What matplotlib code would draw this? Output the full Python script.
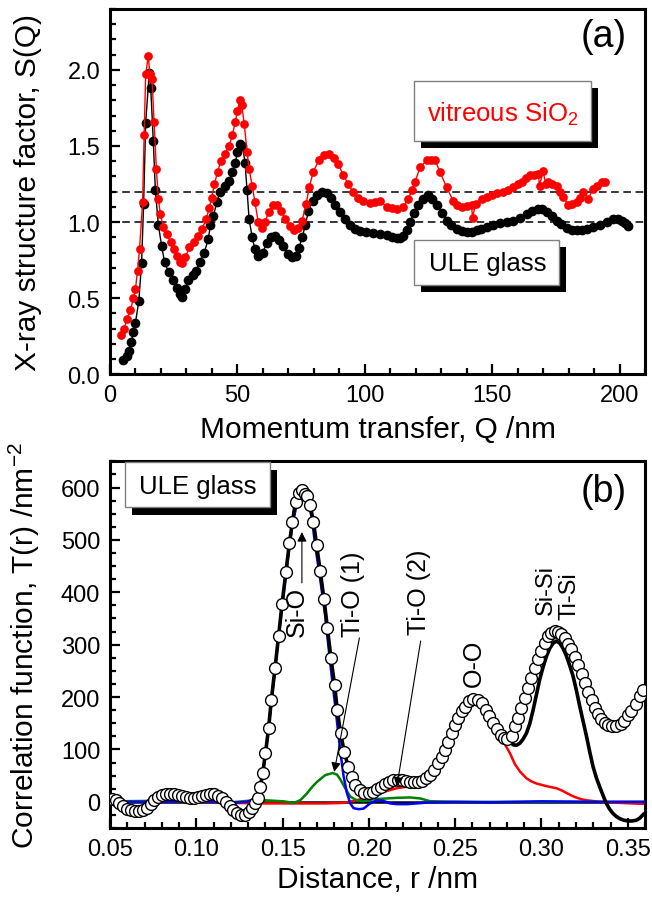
import numpy as np
import matplotlib
matplotlib.use("Agg")
import matplotlib.pyplot as plt
from matplotlib.patches import Rectangle
from matplotlib.ticker import MultipleLocator

plt.rcParams['font.family'] = ['Liberation Sans', 'DejaVu Sans']
plt.rcParams['mathtext.fontset'] = 'custom'
plt.rcParams['mathtext.rm'] = 'Liberation Sans'
plt.rcParams['mathtext.it'] = 'Liberation Sans:italic'

# ---- panel (a): X-ray structure factor S(Q) ----
q_ule = [5.1, 6.7, 7.5, 8.3, 9.2, 10, 11.3, 12.4, 13.2, 14, 15.4, 16, 17, 17.8, 19, 20.3, 21.4,
         23, 24.7, 26.3, 27.5, 28.3, 29.6, 30.7, 32.4, 33.7, 35.3, 37, 38.6, 39.4, 40.6, 41.9,
         43.2, 45.1, 46.8, 48, 49.2, 50, 51, 52, 53, 53.8, 54.6, 55.8, 56.9, 58.2, 59.9, 61.5,
         63.1, 64.8, 66.4, 68, 69.7, 71.3, 72.9, 74.2, 75.4, 76.7, 77.8, 79.5, 81.2, 83.2, 85,
         86.8, 88.5, 90.3, 92.2, 94.2, 96.2, 98.1, 100.5, 103.3, 106, 108.6, 110.5, 112.5, 114,
         115.1, 116.5, 117.7, 119.3, 121, 123, 124.9, 126.5, 128.2, 130.2, 132.1, 134, 136.1,
         138, 140, 142, 143.9, 145.8, 147.8, 150.5, 153.1, 155.7, 158.3, 161, 163.5, 165.8,
         168.1, 169.7, 171.4, 173.3, 175.3, 177.2, 179.2, 181.2, 183.2, 185.2, 187.1, 189.7,
         192.3, 194.9, 197.5, 199.2, 200.8, 202.2, 203.4]
s_ule = [0.096, 0.118, 0.15, 0.21, 0.28, 0.34, 0.48, 0.73, 1.12, 1.65, 1.98, 1.88, 1.53, 1.21,
         0.98, 0.84, 0.74, 0.67, 0.62, 0.57, 0.53, 0.51, 0.56, 0.62, 0.65, 0.68, 0.74, 0.80,
         0.89, 0.98, 1.04, 1.13, 1.20, 1.24, 1.27, 1.33, 1.39, 1.46, 1.51, 1.50, 1.39, 1.21,
         1.02, 0.90, 0.82, 0.78, 0.80, 0.86, 0.90, 0.91, 0.88, 0.84, 0.79, 0.77, 0.78, 0.83,
         0.90, 0.98, 1.07, 1.14, 1.18, 1.20, 1.19, 1.16, 1.11, 1.066, 1.02, 0.982, 0.955, 0.94,
         0.933, 0.93, 0.922, 0.916, 0.905, 0.895, 0.898, 0.91, 0.95, 1.0, 1.06, 1.11, 1.15,
         1.175, 1.15, 1.11, 1.06, 1.01, 0.98, 0.956, 0.94, 0.934, 0.938, 0.945, 0.955, 0.967,
         0.98, 0.995, 1.003, 1.01, 1.03, 1.055, 1.075, 1.087, 1.085, 1.066, 1.04, 1.01, 0.985,
         0.96, 0.95, 0.945, 0.95, 0.956, 0.967, 0.982, 1.0, 1.022, 1.02, 1.01, 0.995, 0.974]

q_sio2 = [4.3, 5.6, 6.7, 8, 9.2, 10, 10.8, 11.6, 12.8, 13.4, 14, 15, 15.7, 16.5, 17.3, 18.2, 19,
          19.8, 20.9, 22.2, 23.9, 25.2, 26.3, 27.5, 28.3, 29.6, 31.2, 32.9, 34.5, 36.1, 37.8,
          38.9, 39.9, 41, 42.2, 43.5, 45.1, 46.8, 48, 49.2, 50, 50.9, 51.7, 52.7, 53.8, 54.6,
          55.8, 56.9, 58.2, 59.5, 60.8, 62.3, 64, 65.6, 67.2, 68.8, 70.5, 72.1, 73.8, 75.4, 77,
          78.2, 79.8, 81.9, 84, 86, 88, 89.5, 91.6, 93.5, 95.5, 97.5, 99.4, 102, 104, 106,
          108.6, 110.5, 112.5, 115.1, 117.1, 118.5, 119.7, 121.7, 124.3, 126, 127.6, 129.5,
          132.1, 134.7, 136.3, 138, 140, 141.9, 142.3, 143.5, 145.9, 147.8, 149.8, 152, 154.4,
          156.4, 158.3, 160, 161.6, 163.2, 164.8, 166.5, 168.1, 168.6, 170, 171, 172, 173.6,
          175.3, 176.6, 177.9, 179.9, 181.5, 183.2, 184.5, 185.8, 187.7, 189.7, 191.3, 193,
          194.3]
s_sio2 = [0.256, 0.30, 0.365, 0.42, 0.50, 0.56, 0.68, 0.825, 1.13, 1.57, 1.97, 2.09, 1.97, 1.94,
          1.66, 1.35, 1.15, 1.05, 0.97, 0.92, 0.87, 0.825, 0.78, 0.74, 0.73, 0.77, 0.835, 0.87,
          0.91, 0.955, 1.02, 1.09, 1.16, 1.25, 1.33, 1.40, 1.45, 1.50, 1.57, 1.66, 1.73, 1.80,
          1.77, 1.645, 1.46, 1.35, 1.24, 1.13, 1.00, 0.96, 1.00, 1.065, 1.11, 1.115, 1.075,
          1.02, 0.975, 0.945, 0.96, 1.01, 1.12, 1.23, 1.33, 1.405, 1.44, 1.45, 1.42, 1.38, 1.31,
          1.25, 1.197, 1.16, 1.14, 1.127, 1.13, 1.14, 1.10, 1.09, 1.087, 1.10, 1.153, 1.21,
          1.263, 1.36, 1.405, 1.41, 1.405, 1.33, 1.23, 1.14, 1.11, 1.10, 1.105, 1.11, 1.03,
          1.12, 1.153, 1.165, 1.175, 1.19, 1.197, 1.21, 1.23, 1.25, 1.263, 1.29, 1.307, 1.31,
          1.318, 1.24, 1.333, 1.25, 1.263, 1.25, 1.24, 1.20, 1.165, 1.11, 1.12, 1.13, 1.16,
          1.197, 1.153, 1.22, 1.24, 1.263, 1.263]

ref_levels = [1.0, 1.2]

# ---- panel (b): correlation function T(r) ----
r_data = [0.051, 0.0532, 0.0555, 0.0575, 0.0598, 0.062, 0.0645, 0.0667, 0.069, 0.0712, 0.0735,
          0.0757, 0.078, 0.0802, 0.0825, 0.0848, 0.087, 0.0893, 0.0918, 0.094, 0.0963, 0.0985,
          0.101, 0.1034, 0.1057, 0.108, 0.1103, 0.1125, 0.1148, 0.117, 0.1193, 0.1215, 0.1238,
          0.126, 0.1283, 0.1305, 0.1322, 0.1340, 0.1356, 0.1371, 0.1385, 0.1401, 0.1419, 0.1435,
          0.1456, 0.1477, 0.1497, 0.1519, 0.1540, 0.1557, 0.1575, 0.1594, 0.1612, 0.1627, 0.1643,
          0.1660, 0.1679, 0.1697, 0.1718, 0.1740, 0.1760, 0.1780, 0.1801, 0.1817, 0.1836, 0.1857,
          0.1880, 0.1900, 0.1922, 0.1946, 0.1972, 0.1998, 0.2022, 0.2046, 0.2070, 0.2094, 0.2118,
          0.2142, 0.2166, 0.2190, 0.2214, 0.2238, 0.2262, 0.2286, 0.2310, 0.2332, 0.2354, 0.2377,
          0.2402, 0.2422, 0.2441, 0.2460, 0.2480, 0.2499, 0.2518, 0.2538, 0.2557, 0.2580, 0.2605,
          0.2630, 0.2655, 0.2678, 0.2697, 0.2720, 0.2740, 0.2763, 0.2782, 0.2803, 0.2827, 0.2846,
          0.2865, 0.2884, 0.2904, 0.2923, 0.2942, 0.2962, 0.2981, 0.3000, 0.3019, 0.3038, 0.3058,
          0.3077, 0.3096, 0.3115, 0.3135, 0.3155, 0.3174, 0.3193, 0.3213, 0.3232, 0.3251, 0.3270,
          0.3290, 0.3309, 0.3328, 0.3347, 0.3367, 0.3388, 0.3410, 0.3434, 0.3458, 0.3480, 0.3500,
          0.3521, 0.3546, 0.3569, 0.3590]
t_data = [5, 3, -3, -8, -13, -16, -17.5, -17, -15, -11, -4, 3, 9, 13, 15, 15.5, 14.5, 12.5, 10.5,
          9, 8, 8, 9, 11.5, 14, 15.5, 14.5, 12, 7, 0, -8, -15, -21, -25, -25, -20, -12, -3, 8,
          29, 55, 93, 141, 195, 255, 317, 378, 438, 495, 534, 573, 590, 595, 588, 583, 566, 534,
          491, 441, 387, 331, 275, 224, 175, 131, 96, 67, 48, 33, 22, 16, 16, 19, 24, 29, 34, 38,
          41, 42, 42, 40, 38, 38, 38, 40, 45, 51, 61, 74, 86, 99, 115, 131, 147, 160, 173, 182,
          192, 196.5, 195, 188, 176, 164.5, 150, 139, 128, 121.7, 120, 125, 144, 160, 179, 198,
          218, 237, 256, 273, 288, 304, 317, 323, 326, 325, 320, 312, 302, 291, 277, 261, 245,
          227, 210, 194, 180, 167, 158, 150, 146, 144, 145, 149, 155, 165, 173, 186, 201.5, 214]

# fitted total beyond the first minimum of the data
r_fit_tail = [0.2836, 0.2855, 0.2875, 0.2894, 0.2913, 0.2933, 0.2952, 0.2971, 0.2990, 0.3010,
              0.3029, 0.3048, 0.3068, 0.3087, 0.3106, 0.3125, 0.3145, 0.3164, 0.3183, 0.3203,
              0.3222, 0.3242, 0.3261, 0.3280, 0.3299, 0.3318, 0.3337, 0.3357, 0.3376, 0.3395,
              0.3414, 0.3434, 0.3453, 0.3477, 0.3501, 0.3525, 0.3550, 0.3570, 0.3590]
t_fit_tail = [109, 108, 112, 120, 131, 150, 176, 205, 234, 258, 278, 293, 303, 307, 303, 293,
              278, 260, 240, 212, 182, 153, 125, 95, 67, 46, 29, 12, -3, -14, -22, -28, -32, -35,
              -36.5, -36.5, -35, -31, -24]

r_sio = [0.05, 0.10, 0.125, 0.1290, 0.1340, 0.1371, 0.1401, 0.1435, 0.1477, 0.1519, 0.1557,
         0.1594, 0.1615, 0.1640, 0.1670, 0.1689, 0.1718, 0.1747, 0.1776, 0.1805, 0.1834, 0.1853,
         0.1872, 0.1892, 0.1911, 0.1940, 0.1969, 0.2007, 0.2046, 0.2084, 0.2123, 0.2162, 0.2220,
         0.2277, 0.2354, 0.25, 0.27, 0.30, 0.33, 0.36]
t_sio = [0, 0, -1, 0, 5, 25, 90, 190, 315, 435, 530, 585, 592, 585, 541, 489, 425, 355, 265,
         183, 98, 50, 18, -3, -12, -14, -13, -3, 3, 2, -3, -4.4, -4.4, -3, -1, 0, -1, 1, 0, 0]

r_tio = [0.05, 0.08, 0.11, 0.12, 0.13, 0.14, 0.1506, 0.1564, 0.1602, 0.1641, 0.1670, 0.1699,
         0.1747, 0.1790, 0.1815, 0.1834, 0.1863, 0.1892, 0.1930, 0.1969, 0.2026, 0.2104, 0.2162,
         0.2239, 0.2297, 0.2354, 0.25, 0.30, 0.36]
t_tio = [1, 2, 1, -1, 2, 3, 1, -2, 3, 16, 28, 38, 51, 55, 52, 43, 26, 10, 3, 1, 5, 6.5, 7.7, 8.4,
         6.5, 1.3, 0, 0, 0]

r_oo = [0.05, 0.10, 0.12, 0.14, 0.16, 0.175, 0.1853, 0.193, 0.2007, 0.2084, 0.2162, 0.222,
        0.2277, 0.232, 0.236, 0.240, 0.245, 0.250, 0.255, 0.260, 0.265, 0.270, 0.275, 0.2788,
        0.2817, 0.2846, 0.2875, 0.2913, 0.2942, 0.2971, 0.3029, 0.3087, 0.3116, 0.3145, 0.3174,
        0.3203, 0.3232, 0.3261, 0.3337, 0.3453, 0.36]
t_oo = [0, 0, -2, -3, -3, -3, -2, 3, 11, 19, 26, 29, 33, 36, 47, 68, 105, 143, 175, 192, 188,
        160, 133, 110, 93, 72, 58, 45, 39, 35, 30, 26, 22, 17, 12, 8, 5, 3, 0, -2, -4]

fig = plt.figure(figsize=(6.52, 9.03), dpi=100)
ax1 = fig.add_axes([0.1687, 0.5844, 0.8206, 0.4045])
ax2 = fig.add_axes([0.1687, 0.0819, 0.8206, 0.4061])

for ax in (ax1, ax2):
    for sp in ax.spines.values():
        sp.set_linewidth(2.2)
    ax.tick_params(which='both', direction='in', top=False, right=False, width=1.6,
                   labelsize=17, pad=7)
    ax.tick_params(which='major', length=7)
    ax.tick_params(which='minor', length=4)

# (a)
for lev in ref_levels:
    ax1.axhline(lev, color='k', lw=1.1, ls=(0, (5, 3)), zorder=1)
ax1.plot(q_sio2, s_sio2, '-o', color='red', lw=1.0, ms=6.3, mew=0, zorder=3)
ax1.plot(q_ule, s_ule, '-o', color='black', lw=1.0, ms=7, mew=0, zorder=2)
ax1.set_xlim(0, 210)
ax1.set_ylim(0, 2.4)
ax1.xaxis.set_major_locator(MultipleLocator(50))
ax1.xaxis.set_minor_locator(MultipleLocator(10))
ax1.yaxis.set_major_locator(MultipleLocator(0.5))
ax1.yaxis.set_minor_locator(MultipleLocator(0.1))
ax1.set_xlabel('Momentum transfer, Q /nm', fontsize=21.5)
ax1.set_ylabel('X-ray structure factor, S(Q)', fontsize=21.5)
ax1.xaxis.set_label_coords(0.5, -0.112)
ax1.yaxis.set_label_coords(-0.128, 0.5)
ax1.text(0.923, 0.926, '(a)', transform=ax1.transAxes, fontsize=27, ha='center', va='center')


def label_box(ax, x0, y0, x1, y1, dx, dy):
    ax.add_patch(Rectangle((x0 + dx, y0 - dy), x1 - x0, y1 - y0, transform=ax.transAxes,
                           fc='black', ec='none', zorder=5, clip_on=False))
    ax.add_patch(Rectangle((x0, y0), x1 - x0, y1 - y0, transform=ax.transAxes,
                           fc='white', ec='#808080', lw=1.0, zorder=6, clip_on=False))


label_box(ax1, 0.569, 0.6395, 0.899, 0.804, 0.0131, 0.019)
ax1.text(0.734, 0.715, 'vitreous SiO$_2$', transform=ax1.transAxes, fontsize=18.5,
         color='red', ha='center', va='center', zorder=7)
label_box(ax1, 0.569, 0.2445, 0.840, 0.3676, 0.0131, 0.019)
ax1.text(0.7056, 0.305, 'ULE glass', transform=ax1.transAxes, fontsize=18.5,
         ha='center', va='center', zorder=7)

# (b)
ax2.axhline(0, color='k', lw=1.8, zorder=1)
ax2.plot(r_oo, t_oo, color='red', lw=1.8, zorder=2)
ax2.plot(r_tio, t_tio, color='green', lw=1.8, zorder=2)
ax2.plot(r_sio, t_sio, color='blue', lw=1.8, zorder=3)
r_fit = [r for r in r_data if r <= 0.2803] + r_fit_tail
t_fit = [t for r, t in zip(r_data, t_data) if r <= 0.2803] + t_fit_tail
ax2.plot(r_fit, t_fit, color='black', lw=2.6, zorder=4)
ax2.plot(r_data, t_data, 'o', mfc='white', mec='black', ms=8.5, mew=1.0, zorder=5)
ax2.set_xlim(0.05, 0.36)
ax2.set_ylim(-50, 650)
ax2.xaxis.set_major_locator(MultipleLocator(0.05))
ax2.xaxis.set_minor_locator(MultipleLocator(0.01))
ax2.yaxis.set_major_locator(MultipleLocator(100))
ax2.yaxis.set_minor_locator(MultipleLocator(25))
ax2.set_xlabel('Distance, r /nm', fontsize=21.5)
ax2.set_ylabel('Correlation function, T(r) /nm$^{-2}$', fontsize=21.5)
ax2.xaxis.set_label_coords(0.5, -0.102)
ax2.yaxis.set_label_coords(-0.128, 0.5)
ax2.text(0.923, 0.919, '(b)', transform=ax2.transAxes, fontsize=27, ha='center', va='center')
label_box(ax2, 0.028, 0.875, 0.299, 0.998, 0.0131, 0.0218)
ax2.text(0.164, 0.933, 'ULE glass', transform=ax2.transAxes, fontsize=18.5,
         ha='center', va='center', zorder=7)

arrow = dict(arrowstyle='-|>', color='black', lw=0.8, mutation_scale=14, shrinkA=0, shrinkB=0)
ax2.annotate('', xy=(0.1612, 515), xytext=(0.1612, 418), arrowprops=arrow, zorder=8)
ax2.annotate('', xy=(0.1799, 57), xytext=(0.1945, 313), arrowprops=arrow, zorder=8)
ax2.annotate('', xy=(0.2162, 29), xytext=(0.2300, 307), arrowprops=arrow, zorder=8)

peak_labels = [('Si-O', 0.1582, 317, 18), ('Ti-O (1)', 0.1909, 317, 18),
               ('Ti-O (2)', 0.2288, 320, 18), ('O-O', 0.2609, 221, 18),
               ('Si-Si', 0.3026, 358, 17), ('Ti-Si', 0.3163, 349, 17)]
for txt, xr, yt, fs in peak_labels:
    ax2.text(xr, yt, txt, rotation=90, fontsize=fs, ha='center', va='bottom', zorder=8)

fig.savefig('out.png', dpi=100)
